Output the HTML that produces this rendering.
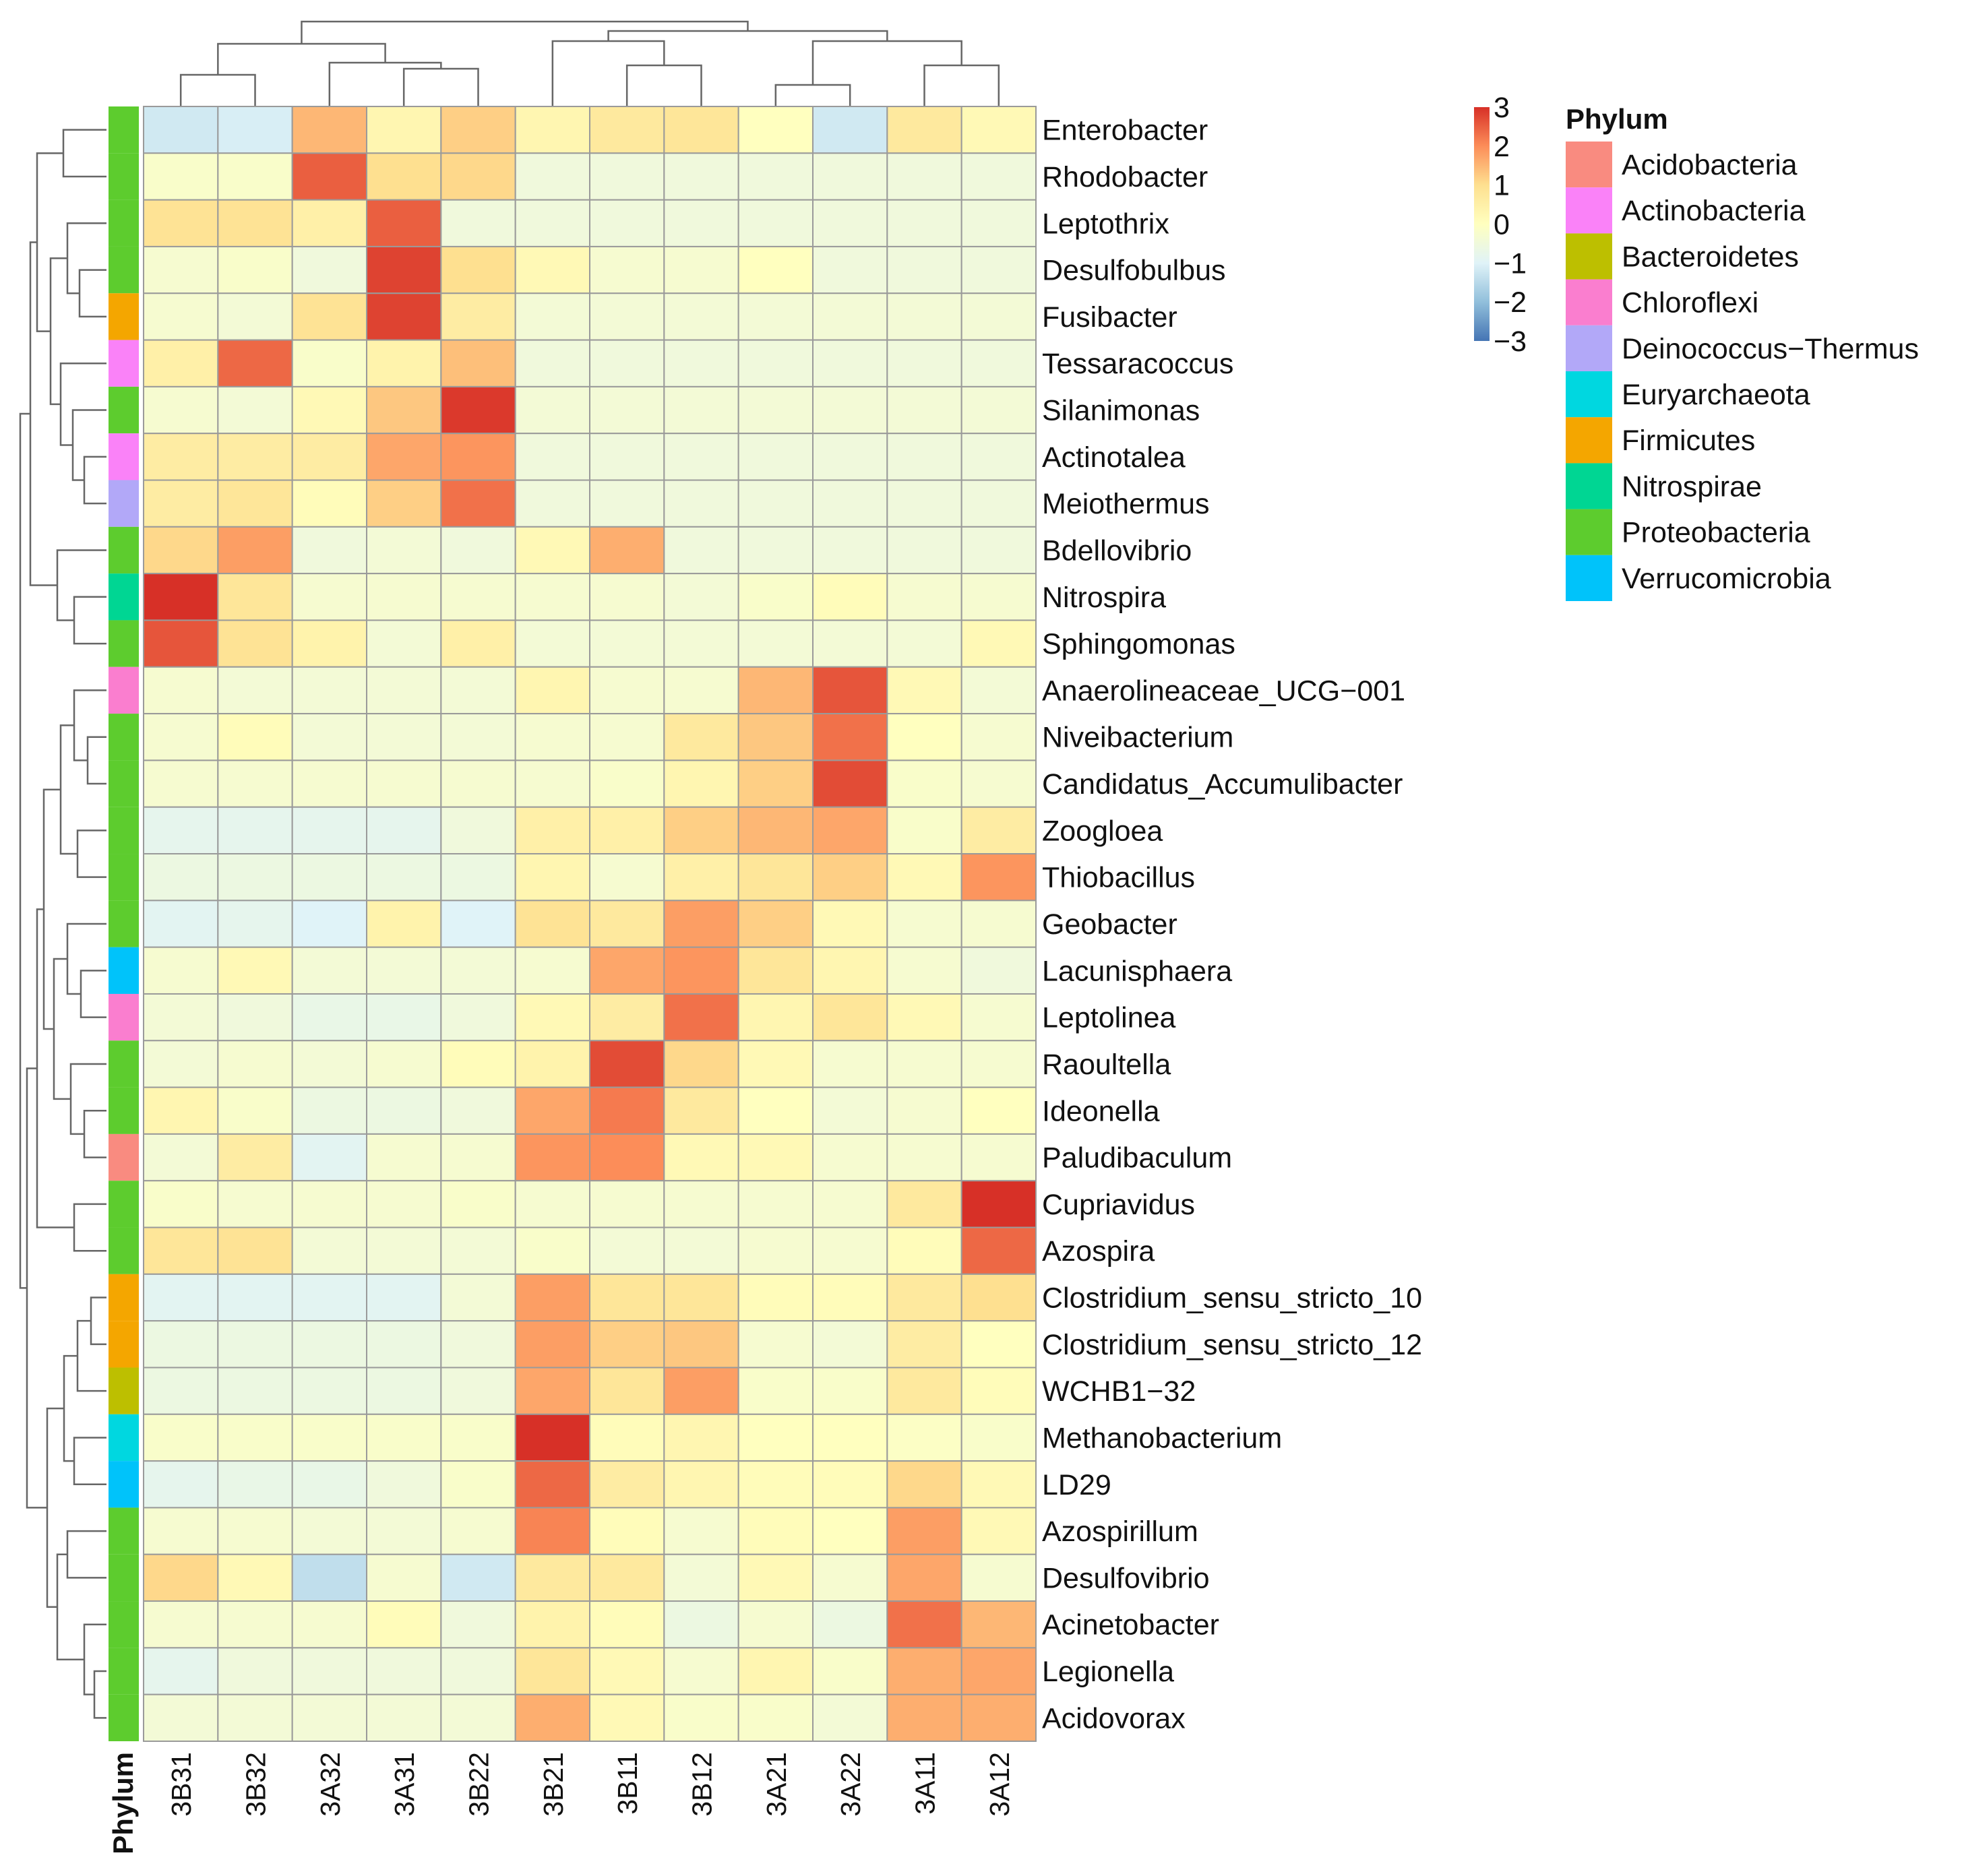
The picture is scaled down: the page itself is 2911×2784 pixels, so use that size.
<!DOCTYPE html>
<html><head><meta charset="utf-8"><style>
html,body{margin:0;padding:0;background:#fff}
svg{display:block;font-family:"Liberation Sans",Arial,sans-serif}
</style></head><body>
<svg id="chart" width="2911" height="2784" viewBox="0 0 2911 2784" xmlns="http://www.w3.org/2000/svg">
<g id="dendro" stroke="#666" stroke-width="2.5" fill="none"></g>
<g id="cells"></g>
<g id="annot"></g>
<g id="rowlabels" font-size="43" fill="#111"></g>
<g id="collabels" font-size="41" fill="#111"></g>
<g id="legend"></g>
</svg>
<script>
const columns = ["3B31","3B32","3A32","3A31","3B22","3B21","3B11","3B12","3A21","3A22","3A11","3A12"];
const rows = ["Enterobacter","Rhodobacter","Leptothrix","Desulfobulbus","Fusibacter","Tessaracoccus","Silanimonas","Actinotalea","Meiothermus","Bdellovibrio","Nitrospira","Sphingomonas","Anaerolineaceae_UCG\u2212001","Niveibacterium","Candidatus_Accumulibacter","Zoogloea","Thiobacillus","Geobacter","Lacunisphaera","Leptolinea","Raoultella","Ideonella","Paludibaculum","Cupriavidus","Azospira","Clostridium_sensu_stricto_10","Clostridium_sensu_stricto_12","WCHB1\u221232","Methanobacterium","LD29","Azospirillum","Desulfovibrio","Acinetobacter","Legionella","Acidovorax"];
const rowPhylum = ["Proteobacteria","Proteobacteria","Proteobacteria","Proteobacteria","Firmicutes","Actinobacteria","Proteobacteria","Actinobacteria","Deinococcus\u2212Thermus","Proteobacteria","Nitrospirae","Proteobacteria","Chloroflexi","Proteobacteria","Proteobacteria","Proteobacteria","Proteobacteria","Proteobacteria","Verrucomicrobia","Chloroflexi","Proteobacteria","Proteobacteria","Acidobacteria","Proteobacteria","Proteobacteria","Firmicutes","Firmicutes","Bacteroidetes","Euryarchaeota","Verrucomicrobia","Proteobacteria","Proteobacteria","Proteobacteria","Proteobacteria","Proteobacteria"];
const values = [
[-1.2,-1.1,1.5,0.3,1.2,0.3,0.7,0.8,0,-1.2,0.7,0.2],
[-0.2,-0.2,2.5,1.0,1.1,-0.5,-0.5,-0.5,-0.5,-0.5,-0.5,-0.5],
[0.9,0.9,0.5,2.5,-0.5,-0.5,-0.5,-0.5,-0.5,-0.5,-0.5,-0.5],
[-0.3,-0.2,-0.5,2.8,1.0,0.2,-0.3,-0.3,0,-0.5,-0.5,-0.5],
[-0.3,-0.4,0.9,2.8,0.6,-0.4,-0.4,-0.4,-0.4,-0.4,-0.4,-0.4],
[0.5,2.4,-0.2,0.4,1.4,-0.5,-0.5,-0.5,-0.5,-0.5,-0.5,-0.5],
[-0.3,-0.4,0.2,1.3,2.9,-0.4,-0.4,-0.4,-0.4,-0.4,-0.4,-0.4],
[0.6,0.6,0.6,1.7,1.9,-0.5,-0.5,-0.5,-0.5,-0.5,-0.5,-0.5],
[0.6,0.8,0.1,1.2,2.3,-0.5,-0.5,-0.5,-0.5,-0.5,-0.5,-0.5],
[1.1,1.8,-0.5,-0.4,-0.5,0.2,1.6,-0.5,-0.5,-0.5,-0.5,-0.5],
[3.0,0.8,-0.3,-0.3,-0.3,-0.3,-0.3,-0.4,-0.2,0.1,-0.3,-0.3],
[2.6,0.9,0.4,-0.4,0.5,-0.4,-0.4,-0.4,-0.4,-0.4,-0.4,0.2],
[-0.3,-0.4,-0.4,-0.4,-0.4,0.3,-0.3,-0.3,1.5,2.6,0.2,-0.4],
[-0.3,0.1,-0.4,-0.4,-0.4,-0.3,-0.3,0.7,1.3,2.3,0,-0.3],
[-0.3,-0.3,-0.3,-0.3,-0.3,-0.3,-0.2,0.3,1.2,2.7,-0.2,-0.3],
[-0.8,-0.8,-0.8,-0.8,-0.5,0.5,0.5,1.2,1.5,1.7,-0.2,0.6],
[-0.6,-0.6,-0.6,-0.6,-0.6,0.3,-0.3,0.5,0.8,1.2,0.2,1.9],
[-0.9,-0.8,-1.0,0.4,-1.0,0.9,0.7,1.8,1.2,0.2,-0.3,-0.3],
[-0.3,0.2,-0.4,-0.4,-0.4,-0.3,1.7,1.9,0.8,0.3,-0.3,-0.5],
[-0.4,-0.5,-0.7,-0.7,-0.5,0.2,0.6,2.3,0.3,0.8,0.2,-0.3],
[-0.4,-0.3,-0.4,-0.3,0.1,0.4,2.7,1.1,0.2,-0.3,-0.3,-0.3],
[0.3,-0.2,-0.6,-0.6,-0.5,1.7,2.2,0.7,0,-0.4,-0.3,0],
[-0.4,0.6,-0.9,-0.3,-0.3,1.9,2.0,0.2,0.2,-0.3,-0.3,-0.3],
[-0.2,-0.3,-0.3,-0.3,-0.2,-0.3,-0.3,-0.3,-0.3,-0.3,0.7,3.0],
[0.8,0.9,-0.4,-0.4,-0.4,-0.2,-0.4,-0.4,-0.3,-0.3,0.1,2.4],
[-0.9,-0.9,-0.9,-0.9,-0.4,1.8,0.8,0.8,0.1,0.1,0.7,1.0],
[-0.6,-0.6,-0.6,-0.6,-0.5,1.8,1.2,1.3,-0.3,-0.4,0.6,0],
[-0.6,-0.6,-0.6,-0.6,-0.5,1.7,0.8,1.8,-0.2,-0.2,0.7,0.1],
[-0.2,-0.2,-0.2,-0.2,-0.2,3.0,0.1,0.3,0,0,-0.1,-0.2],
[-0.8,-0.7,-0.7,-0.5,-0.2,2.4,0.6,0.3,0.1,0.1,1.1,0.2],
[-0.3,-0.3,-0.4,-0.4,-0.3,2.1,0.1,-0.3,0.1,0,1.8,0.2],
[1.1,0.2,-1.4,-0.3,-1.2,0.7,0.7,-0.4,0.2,-0.3,1.7,-0.3],
[-0.3,-0.3,-0.3,0.1,-0.5,0.4,0.1,-0.6,-0.3,-0.6,2.3,1.5],
[-0.8,-0.5,-0.5,-0.5,-0.5,0.8,0.2,-0.3,0.3,-0.2,1.6,1.7],
[-0.4,-0.4,-0.4,-0.4,-0.4,1.6,0.2,-0.2,-0.2,-0.4,1.6,1.6]
];
const phylumNames = ["Acidobacteria","Actinobacteria","Bacteroidetes","Chloroflexi","Deinococcus\u2212Thermus","Euryarchaeota","Firmicutes","Nitrospirae","Proteobacteria","Verrucomicrobia"];
const phylumColors = ["#F98B80","#FA82F8","#BDBF00","#FA7ECF","#B2A8F8","#00D7E0","#F4A600","#00D693","#5DCC2E","#00C3FA"];
const scaleTicks = [3,2,1,0,-1,-2,-3];

const NS="http://www.w3.org/2000/svg";
const X0=213,X1=1537,Y0=158,Y1=2584;
const cw=(X1-X0)/columns.length, rh=(Y1-Y0)/rows.length;
const xScale=i=>X0+i*cw, yScale=j=>Y0+j*rh;
const vMin=-3,vMax=3;
const pal=["#4575B4","#91BFDB","#E0F3F8","#FFFFBF","#FEE090","#FC8D59","#D73027"];
function hex(h){return [1,3,5].map(i=>parseInt(h.substr(i,2),16));}
function color(v){let t=(v-vMin)/(vMax-vMin);t=Math.max(0,Math.min(1,t))*(pal.length-1);
 const i=Math.min(Math.floor(t),pal.length-2),f=t-i,a=hex(pal[i]),b=hex(pal[i+1]);
 return "rgb("+a.map((x,k)=>Math.round(x+(b[k]-x)*f)).join(",")+")";}
function mk(tag,attrs,parent){const e=document.createElementNS(NS,tag);for(const k in attrs)e.setAttribute(k,attrs[k]);parent.appendChild(e);return e;}

const cells=document.getElementById('cells');
values.forEach((row,j)=>row.forEach((v,i)=>{
 const r=mk('rect',{x:xScale(i),y:yScale(j),width:cw,height:rh,fill:color(v),stroke:'#9a9a9a','stroke-width':2},cells);
 
 
}));
const annot=document.getElementById('annot');
rowPhylum.forEach((p,j)=>{
 const r=mk('rect',{x:161,y:yScale(j),width:45,height:rh,fill:phylumColors[phylumNames.indexOf(p)]},annot);
 
 
});
const rl=document.getElementById('rowlabels');
rows.forEach((n,j)=>{
 const t=mk('text',{x:1546,y:yScale(j)+rh/2+15},rl);t.textContent=n;
 
 
});
const cl=document.getElementById('collabels');
columns.forEach((n,i)=>{
 const x=xScale(i)+cw/2+15;
 const t=mk('text',{x:x,y:2600,transform:'rotate(-90 '+x+' 2600)','text-anchor':'end'},cl);t.textContent=n;
 
 
});
{const t=mk('text',{x:197,y:2600,transform:'rotate(-90 197 2600)','text-anchor':'end','font-weight':'bold','font-size':42},cl);t.textContent='Phylum';
 
 }

const dg=document.getElementById('dendro');
const colTree=[32,[65,[111,0,1],[93,2,[102,3,4]]],[46,[61,5,[97,6,7]],[61,[126,8,9],[97,10,11]]]];
const rowTree=[30,[45,[55,[94,0,1],[75,[100,2,[118,3,4]],[90,5,[108,6,[125,7,8]]]]],[85,9,[110,10,11]]],
 [40,[55,[65,[90,[110,12,[130,13,14]],[115,15,16]],[80,[100,17,[120,18,19]],[105,20,[125,21,22]]]],[110,23,24]],
  [70,[95,[115,[135,25,26],27],[110,28,29]],[85,[100,30,31],[125,32,[140,33,34]]]]]];
function drawCol(n){if(typeof n==='number')return [xScale(n)+cw/2,Y0];
 const a=drawCol(n[1]),b=drawCol(n[2]),h=n[0];
 mk('path',{d:`M${a[0]},${a[1]}V${h}H${b[0]}V${b[1]}`},dg);return [(a[0]+b[0])/2,h];}
function drawRow(n){if(typeof n==='number')return [158,yScale(n)+rh/2];
 const a=drawRow(n[1]),b=drawRow(n[2]),h=n[0];
 mk('path',{d:`M${a[0]},${a[1]}H${h}V${b[1]}H${b[0]}`},dg);return [h,(a[1]+b[1])/2];}
drawCol(colTree);drawRow(rowTree);

const lg=document.getElementById('legend');
const defs=mk('defs',{},lg);
const grad=mk('linearGradient',{id:'cg',x1:0,y1:1,x2:0,y2:0},defs);
pal.forEach((c,i)=>mk('stop',{offset:i/(pal.length-1),'stop-color':c},grad));
const cb=mk('rect',{x:2187,y:159,width:23,height:347,fill:'url(#cg)'},lg);


scaleTicks.forEach(v=>{
 const y=159+(vMax-v)/(vMax-vMin)*347;
 const t=mk('text',{x:2216,y:y+15,'font-size':43,fill:'#111'},lg);t.textContent=(v<0?'\u2212'+(-v):String(v));
 
 
});
{const t=mk('text',{x:2323,y:191,'font-size':42,'font-weight':'bold',fill:'#111'},lg);t.textContent='Phylum';
 
 }
phylumNames.forEach((p,k)=>{
 const y=210+k*68.2;
 const r=mk('rect',{x:2323,y:y,width:69,height:68.2,fill:phylumColors[k]},lg);
 
 
 const t=mk('text',{x:2406,y:y+49,'font-size':43,fill:'#111'},lg);t.textContent=p;
 
 
});
</script>
</body></html>
